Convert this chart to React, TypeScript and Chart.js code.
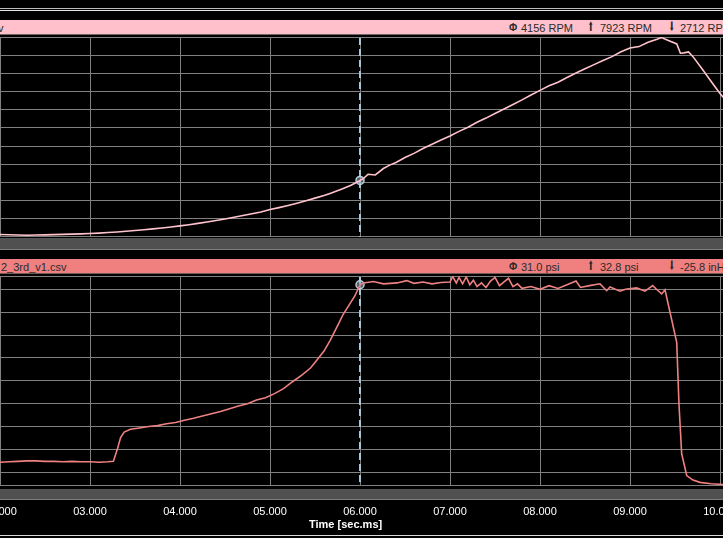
import React, { useEffect, useRef } from "react";
import { Chart, registerables } from "chart.js";

Chart.register(...registerables);

// ---------- data ----------
const rpmTimes = [
  2.0, 2.1, 2.2, 2.3, 2.4, 2.5, 2.6, 2.7, 2.8, 2.9,
  3.0, 3.1, 3.2, 3.3, 3.4, 3.5, 3.6, 3.7, 3.8, 3.9,
  4.0, 4.1, 4.2, 4.3, 4.4, 4.5, 4.6, 4.7, 4.8, 4.9,
  5.0, 5.1, 5.2, 5.3, 5.4, 5.5, 5.6, 5.667, 5.8, 5.9,
  6.0, 6.04, 6.09, 6.17, 6.26, 6.33, 6.4, 6.5, 6.6, 6.7, 6.8, 6.9,
  7.0, 7.1, 7.2, 7.3, 7.4, 7.5, 7.6, 7.7, 7.8, 7.9,
  8.0, 8.1, 8.2, 8.3, 8.4, 8.5, 8.6, 8.7, 8.8, 8.9,
  9.0, 9.1, 9.2, 9.3, 9.35, 9.42, 9.52, 9.56, 9.6, 9.65, 9.7, 9.8, 9.9, 10.0, 10.04,
];
const rpmValues = [
  2730, 2724, 2718, 2712, 2716, 2722, 2728, 2735, 2742, 2748,
  2758, 2768, 2782, 2796, 2815, 2836, 2857, 2880, 2904, 2930,
  2958, 2990, 3024, 3062, 3100, 3140, 3186, 3232, 3280, 3326,
  3390, 3440, 3495, 3555, 3620, 3690, 3760, 3815, 3930, 4030,
  4156, 4210, 4320, 4300, 4470, 4560, 4630, 4760, 4870, 5000, 5110, 5220,
  5330, 5450, 5560, 5690, 5800, 5920, 6040, 6160, 6280, 6410,
  6530, 6650, 6745, 6870, 6990, 7100, 7210, 7320, 7420, 7550,
  7650, 7685, 7800, 7880, 7923, 7850, 7754, 7510, 7520, 7545, 7420, 7100, 6770, 6450, 6340,
];

const boostTimes = [
  2.0, 2.1, 2.2, 2.3, 2.4, 2.5, 2.6, 2.7, 2.8, 2.9,
  3.0, 3.1, 3.2, 3.26, 3.3, 3.34, 3.38, 3.45, 3.55, 3.65,
  3.75, 3.85, 3.95, 4.05, 4.15, 4.25, 4.35, 4.45, 4.55, 4.65,
  4.75, 4.85, 4.95, 5.05, 5.15, 5.25, 5.35, 5.45, 5.5, 5.6,
  5.667, 5.75, 5.815, 5.88, 5.944, 6.0, 6.04, 6.15, 6.26, 6.41,
  6.52, 6.6, 6.7, 6.8, 6.9, 7.0, 7.03, 7.07, 7.1, 7.14,
  7.18, 7.22, 7.26, 7.3, 7.35, 7.4, 7.45, 7.5, 7.55, 7.6,
  7.65, 7.7, 7.75, 7.8, 7.9, 8.0, 8.1, 8.2, 8.3, 8.4,
  8.45, 8.55, 8.667, 8.741, 8.778, 8.889, 8.95, 9.074, 9.167, 9.252,
  9.3, 9.352, 9.389, 9.519, 9.544, 9.574, 9.63, 9.7, 9.778, 9.9, 10.04,
];
const boostValues = [
  -7.8, -7.7, -7.6, -7.5, -7.5, -7.6, -7.6, -7.7, -7.6, -7.7,
  -7.7, -7.8, -7.7, -7.6, -5.2, -2.4, -1.2, -0.6, -0.3, 0.0,
  0.2, 0.6, 0.9, 1.4, 1.8, 2.3, 2.8, 3.3, 3.9, 4.5,
  5.0, 5.8, 6.3, 7.2, 8.3, 9.8, 11.2, 12.8, 14.0, 16.5,
  18.8, 22.0, 24.6, 26.6, 28.6, 31.0, 31.4, 31.7, 31.2, 31.4,
  31.9, 31.3, 31.6, 31.2, 31.5, 31.6, 32.8, 31.4, 32.6, 31.2,
  32.7, 31.0, 32.0, 30.6, 31.4, 30.4, 31.8, 32.6, 30.8, 31.6,
  32.4, 30.6, 31.2, 30.2, 30.6, 30.0, 30.8, 30.2, 31.0, 31.8,
  30.4, 30.8, 31.2, 29.7, 30.5, 29.6, 30.0, 30.3, 29.6, 30.8,
  29.9, 29.0, 29.9, 18.4, 5.0, -5.9, -10.7, -11.7, -12.2, -12.5, -12.67,
];

const cursorTime = 6.0;
const cursorRpm = 4156;
const cursorBoost = 31.0;
const rpmStats = ["4156 RPM", "7923 RPM", "2712 RPM"];
const boostStats = ["31.0 psi", "32.8 psi", "-25.8 inHg"];
const statIcons = ["Φ", "⬆", "⬇"];
const xAxisTitle = "Time [sec.ms]";

// ---------- styling ----------
const W = 723;
const X_MIN = 2.0;
const X_MAX = 2.0 + 723 / 90;
const GRID = "#808080";
const CURSOR = "#a6c6d8";
const FONT = '"Liberation Sans", Arial, sans-serif';

const overlayPlugin = {
  id: "overlay",
  beforeDatasetsDraw(chart: any) {
    const { ctx, chartArea: a, scales } = chart;
    ctx.save();
    ctx.strokeStyle = GRID;
    ctx.lineWidth = 1;
    ctx.beginPath();
    ctx.moveTo(a.left, a.top + 0.5);
    ctx.lineTo(a.right, a.top + 0.5);
    ctx.moveTo(a.left, a.bottom - 0.5);
    ctx.lineTo(a.right, a.bottom - 0.5);
    ctx.stroke();
    const x = Math.round(scales.x.getPixelForValue(cursorTime));
    ctx.strokeStyle = CURSOR;
    ctx.lineWidth = 2;
    ctx.setLineDash([7, 4]);
    ctx.beginPath();
    ctx.moveTo(x, a.top + 1);
    ctx.lineTo(x, a.bottom);
    ctx.stroke();
    ctx.restore();
  },
};

function fmtTime(v: number) {
  const s = Number(v).toFixed(3);
  return s.length < 6 ? "0".repeat(6 - s.length) + s : s;
}

function makeConfig(
  times: number[],
  values: number[],
  color: string,
  cursorVal: number,
  yMin: number,
  yMax: number,
  yStep: number,
  showTicks: boolean,
  xHeight: number
): any {
  return {
    type: "line",
    data: {
      datasets: [
        {
          data: times.map((t, i) => ({ x: t, y: values[i] })),
          borderColor: color,
          borderWidth: 1.6,
          pointRadius: 0,
          tension: 0,
          fill: false,
        },
        {
          data: [{ x: cursorTime, y: cursorVal }],
          showLine: false,
          pointRadius: 4,
          pointBorderWidth: 1.5,
          pointBorderColor: "#b9d0de",
          pointBackgroundColor: "rgba(150,170,185,0.55)",
        },
      ],
    },
    options: {
      animation: false,
      responsive: false,
      maintainAspectRatio: false,
      devicePixelRatio: 1,
      events: [],
      layout: { padding: 0, autoPadding: false },
      plugins: {
        legend: { display: false },
        tooltip: { enabled: false },
        title: { display: false },
      },
      scales: {
        x: {
          type: "linear",
          min: X_MIN,
          max: X_MAX,
          ticks: {
            display: showTicks,
            stepSize: 1,
            includeBounds: false,
            autoSkip: false,
            maxRotation: 0,
            minRotation: 0,
            padding: 19,
            color: "#ffffff",
            font: { family: FONT, size: 11 },
            callback: (v: any) => fmtTime(v),
          },
          grid: { color: GRID, lineWidth: 1, drawTicks: false },
          border: { display: false },
          afterFit: (s: any) => {
            s.height = xHeight;
            s.paddingLeft = 0;
            s.paddingRight = 0;
          },
        },
        y: {
          type: "linear",
          min: yMin,
          max: yMax,
          ticks: { display: false, stepSize: yStep, includeBounds: false },
          grid: { color: GRID, lineWidth: 1, drawTicks: false },
          border: { display: false },
          afterFit: (s: any) => {
            s.width = 0;
          },
        },
      },
    },
    plugins: [overlayPlugin],
  };
}

const abs = (o: any): any => ({ position: "absolute", ...o });

function Header({ top, color, label, labelLeft, stats }: any) {
  const iconX = [509, 588, 669];
  const textX = [521, 600, 680];
  return (
    <div
      style={abs({
        left: 0,
        top,
        width: W,
        height: 14,
        background: color,
        fontSize: 11,
        lineHeight: "14px",
        color: "#2a2a2a",
        whiteSpace: "nowrap",
        overflow: "hidden",
      })}
    >
      <span style={abs({ left: labelLeft, top: 1 })}>{label}</span>
      {stats.map((s: string, i: number) => (
        <React.Fragment key={i}>
          <span
            style={abs({
              left: iconX[i],
              top: i === 0 ? 1 : 0,
              fontWeight: "bold",
              fontFamily: i === 0 ? FONT : '"DejaVu Sans", sans-serif',
              fontSize: i === 0 ? 10 : 13,
              lineHeight: "14px",
              transform: i === 0 ? undefined : "scaleX(0.5)",
              transformOrigin: "left center",
            })}
          >
            {statIcons[i]}
          </span>
          <span style={abs({ left: textX[i], top: 1 })}>{s}</span>
        </React.Fragment>
      ))}
    </div>
  );
}

export default function App() {
  const topRef = useRef<HTMLCanvasElement>(null);
  const botRef = useRef<HTMLCanvasElement>(null);

  useEffect(() => {
    const top = new Chart(
      topRef.current as HTMLCanvasElement,
      makeConfig(rpmTimes, rpmValues, "#ffc4cc", cursorRpm, 2665, 7938, 500, false, 0)
    );
    const bot = new Chart(
      botRef.current as HTMLCanvasElement,
      makeConfig(boostTimes, boostValues, "#ee8282", cursorBoost, -12.99, 32.91, 5, true, 52)
    );
    return () => {
      top.destroy();
      bot.destroy();
    };
  }, []);

  return (
    <div
      style={{
        position: "fixed",
        left: 0,
        top: 0,
        width: W,
        height: 538,
        background: "#000",
        overflow: "hidden",
        fontFamily: FONT,
      }}
    >
      <div style={abs({ left: 0, top: 8, width: W, height: 1, background: "#bdbdbd" })} />
      <div style={abs({ left: 0, top: 10, width: W, height: 1, background: "#e8e8e8" })} />

      <Header top={20} color="#ffc0cb" label="v" labelLeft={-2} stats={rpmStats} />
      <div style={abs({ left: 0, top: 34, width: W, height: 1, background: "#6e6466" })} />

      <canvas ref={topRef} width={W} height={200} style={abs({ left: 0, top: 37 })} />

      <div style={abs({ left: 0, top: 238, width: W, height: 11, background: "#505050" })} />
      <div style={abs({ left: 0, top: 249, width: W, height: 1, background: "#7c7c7c" })} />

      <Header top={259} color="#f08080" label="2_3rd_v1.csv" labelLeft={1} stats={boostStats} />
      <div style={abs({ left: 0, top: 273, width: W, height: 1, background: "#6e5a5a" })} />

      <div style={abs({ left: 0, top: 489, width: W, height: 10, background: "#505050" })} />
      <div style={abs({ left: 0, top: 499, width: W, height: 1, background: "#7c7c7c" })} />

      <canvas ref={botRef} width={W} height={262} style={abs({ left: 0, top: 276 })} />

      <div
        style={abs({
          left: 309,
          top: 518,
          fontSize: 11,
          fontWeight: "bold",
          lineHeight: "13px",
          color: "#ffffff",
          whiteSpace: "nowrap",
        })}
      >
        {xAxisTitle}
      </div>
      <div style={abs({ left: 0, top: 535, width: W, height: 1, background: "#d8d8d8" })} />
    </div>
  );
}
